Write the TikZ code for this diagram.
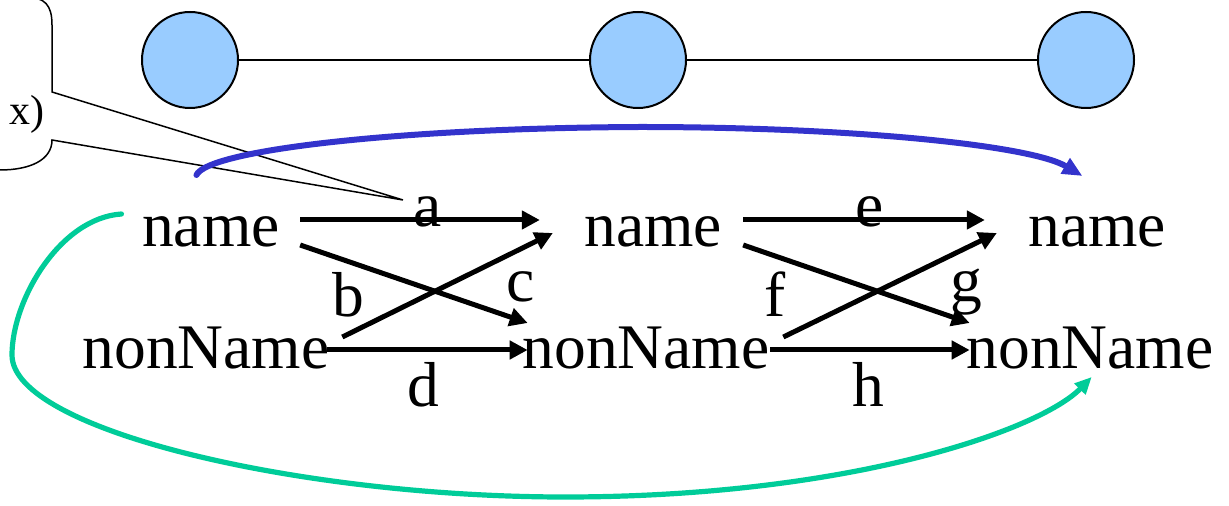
\documentclass[tikz,border=0pt]{standalone}
\usepackage{fontspec}
\setmainfont{Liberation Serif}
\usetikzlibrary{arrows.meta}
\definecolor{nodeblue}{HTML}{99CCFF}
\definecolor{curveblue}{HTML}{3333CC}
\definecolor{curvegreen}{HTML}{00CC99}
\tikzset{
  bigtext/.style={inner sep=0pt, anchor=base, font=\fontsize{31.75pt}{36pt}\selectfont},
  dot/.style={circle, draw=black, line width=1pt, fill=nodeblue, minimum size=48pt, inner sep=0pt},
  link/.style={draw=black, line width=1pt},
  trans/.style={draw=black, line width=2.5pt, -{Triangle[length=9pt,width=9pt]}},
  bluearc/.style={draw=curveblue, line width=3pt, line cap=round, -{Triangle[length=10pt,width=8.5pt]}},
  greenarc/.style={draw=curvegreen, line width=2.6pt, line cap=round, -{Triangle[length=8.5pt,width=7.5pt]}},
  callout/.style={draw=black, line width=0.75pt, fill=white},
  smalltext/.style={inner sep=0pt, anchor=base east, font=\fontsize{21pt}{24pt}\selectfont}
}
\begin{document}
\begin{tikzpicture}[x=0.5pt, y=-0.5pt]
\useasboundingbox (0,0) rectangle (1229,506);
\clip (0,0) rectangle (1229,506);

% top chain of circles
\node[dot] (c1) at (190,60) {};
\node[dot] (c2) at (638,60) {};
\node[dot] (c3) at (1086,60) {};
\draw[link] (c1) -- (c2);
\draw[link] (c2) -- (c3);

% state labels
\node[bigtext] (n1) at (211,247) {name};
\node[bigtext] (n2) at (653,247) {name};
\node[bigtext] (n3) at (1097,247) {name};
\node[bigtext] (m1) at (206,369) {nonName};
\node[bigtext] (m2) at (646,369) {nonName};
\node[bigtext] (m3) at (1090,369) {nonName};

% edge letters
\node[bigtext] (la) at (428,227) {a};
\node[bigtext] (lb) at (348,317) {b};
\node[bigtext] (lc) at (521,302) {c};
\node[bigtext] (ld) at (423,407) {d};
\node[bigtext] (le) at (870,227) {e};
\node[bigtext] (lf) at (775,317) {f};
\node[bigtext] (lg) at (966,302) {g};
\node[bigtext] (lh) at (868,407) {h};

% callout at top left (drawn below the curves)
\coordinate (tip) at ([shift={(-25,-27)}]la.base);
\draw[callout] (-20,-3) -- (25,-3) .. controls (45,-3) and (52,5) .. (52,25) -- (52,92) -- (tip)
  -- (52,140) .. controls (52,160) and (30,170) .. (0,170) -- (-20,170);
\node[smalltext] (cx) at (45,125) {x)};

% transitions, first stage
\draw[trans] ([shift={(20,-27)}]n1.base east) -- ([shift={(-44,-27)}]n2.base west);
\draw[trans] ([shift={(20,-2)}]n1.base east) -- ([shift={(5.5,-46)}]m2.base west);
\draw[trans] ([shift={(12.5,-32)}]m1.base east) -- ([shift={(-31,-14)}]n2.base west);
\draw[trans] ([shift={(-2.5,-19)}]m1.base east) -- ([shift={(5.5,-19)}]m2.base west);

% transitions, second stage
\draw[trans] ([shift={(21,-27)}]n2.base east) -- ([shift={(-43,-27)}]n3.base west);
\draw[trans] ([shift={(21,-2)}]n2.base east) -- ([shift={(3.5,-46)}]m3.base west);
\draw[trans] ([shift={(13.5,-32)}]m2.base east) -- ([shift={(-31,-14)}]n3.base west);
\draw[trans] ([shift={(0.5,-19)}]m2.base east) -- ([shift={(3.5,-19)}]m3.base west);

% long curves
\draw[bluearc] ([shift={(54.6,-72)}]n1.base west) .. controls (208,150) and (400,128) .. (640,127)
  .. controls (850,127) and (1030,145) .. ([shift={(54.6,-71)}]n3.base west);
\draw[greenarc] ([shift={(-20.4,-33)}]n1.base west) .. controls (60,218) and (12,300) .. (12,355)
  .. controls (12,430) and (300,497) .. (565,497)
  .. controls (850,497) and (1040,430) .. ([shift={(125.5,8)}]m3.base west);
\end{tikzpicture}
\end{document}
